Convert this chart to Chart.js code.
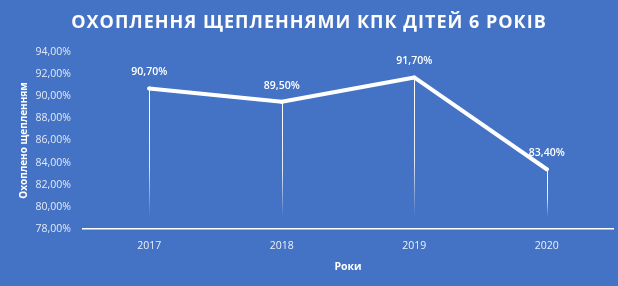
<!DOCTYPE html>
<html>
<head>
<meta charset="utf-8">
<script src="https://cdn.jsdelivr.net/npm/chart.js@4.4.1/dist/chart.umd.min.js"></script>
<style>
  html, body { margin: 0; padding: 0; background: #4472C4; }
  #wrap { position: relative; width: 618px; height: 286px; background: #4472C4; }
  #title { position: absolute; left: 0; top: 9px; width: 618px; text-align: center;
           font-family: "Open Sans", sans-serif; font-weight: 700; font-size: 18px;
           letter-spacing: 1.0px; color: #ffffff; }
  canvas { position: absolute; left: 0; top: 0; }
</style>
</head>
<body>
<div id="wrap">
  <canvas id="c" width="618" height="286"></canvas>
  <div id="title">ОХОПЛЕННЯ ЩЕПЛЕННЯМИ КПК ДІТЕЙ 6 РОКІВ</div>
</div>
<script>
const categories = ["2017", "2018", "2019", "2020"];
const coverage = [0.907, 0.895, 0.917, 0.834];
const yTicks = [0.78, 0.80, 0.82, 0.84, 0.86, 0.88, 0.90, 0.92, 0.94];
const yAxisTitle = "Охоплено щепленням";
const xAxisTitle = "Роки";

const fmt = v => (v * 100).toFixed(2).replace('.', ',') + '%';
const fmtLabel = v => (v * 100).toFixed(1).replace('.', ',') + '0%';

const dropLines = {
  id: 'dropLines',
  beforeDatasetsDraw(chart) {
    const ctx = chart.ctx;
    const meta = chart.getDatasetMeta(0);
    const bottom = chart.scales.y.bottom;
    ctx.save();
    meta.data.forEach(pt => {
      const g = ctx.createLinearGradient(0, pt.y, 0, bottom - 12);
      g.addColorStop(0, 'rgba(255,255,255,1)');
      g.addColorStop(0.6, 'rgba(255,255,255,0.85)');
      g.addColorStop(1, 'rgba(255,255,255,0)');
      ctx.strokeStyle = g;
      ctx.lineWidth = 1;
      ctx.beginPath();
      ctx.moveTo(Math.round(pt.x) + 0.5, pt.y);
      ctx.lineTo(Math.round(pt.x) + 0.5, bottom - 12);
      ctx.stroke();
    });
    ctx.restore();
  }
};

const dataLabels = {
  id: 'dataLabels',
  afterDatasetsDraw(chart) {
    const ctx = chart.ctx;
    const meta = chart.getDatasetMeta(0);
    ctx.save();
    ctx.fillStyle = '#ffffff';
    ctx.font = '600 10.5px "Open Sans", sans-serif';
    ctx.textAlign = 'center';
    ctx.textBaseline = 'middle';
    meta.data.forEach((pt, i) => {
      ctx.fillText(fmtLabel(coverage[i]), pt.x, pt.y - 16);
    });
    ctx.restore();
  }
};

new Chart(document.getElementById('c'), {
  type: 'line',
  data: {
    labels: categories,
    datasets: [{
      data: coverage,
      borderColor: '#ffffff',
      borderWidth: 4,
      borderCapStyle: 'round',
      borderJoinStyle: 'round',
      pointRadius: 2,
      pointBackgroundColor: '#ffffff',
      pointBorderWidth: 0,
      tension: 0
    }]
  },
  plugins: [dropLines, dataLabels],
  options: {
    responsive: false,
    animation: false,
    events: [],
    layout: { padding: { top: 52, right: 5, bottom: 13, left: 0 } },
    plugins: { legend: { display: false }, tooltip: { enabled: false }, title: { display: false } },
    scales: {
      x: {
        offset: true,
        grid: { display: false, drawTicks: false, offset: true },
        border: { display: true, color: '#ffffff', width: 1.5 },
        ticks: { color: 'rgba(255,255,255,0.9)', font: { family: '"Open Sans", sans-serif', size: 10.5 }, padding: 11 },
        title: { display: true, text: xAxisTitle, color: '#ffffff', font: { family: '"Open Sans", sans-serif', size: 10.5, weight: 'bold' }, padding: { top: 2, bottom: 0 } },
        afterFit(s) { s.height = 44; }
      },
      y: {
        min: 0.78, max: 0.94,
        afterBuildTicks(s) { s.ticks = yTicks.map(v => ({ value: v })); },
        grid: { display: false, drawTicks: false },
        border: { display: false },
        ticks: { color: 'rgba(255,255,255,0.85)', font: { family: '"Open Sans", sans-serif', size: 10.5 }, padding: 12, callback: v => fmt(v) },
        title: { display: true, text: yAxisTitle, color: '#ffffff', font: { family: '"Open Sans", sans-serif', size: 10, weight: 'bold' }, padding: { top: 18, bottom: 2 } },
        afterFit(s) { s.width = 83; }
      }
    }
  }
});
</script>
</body>
</html>
